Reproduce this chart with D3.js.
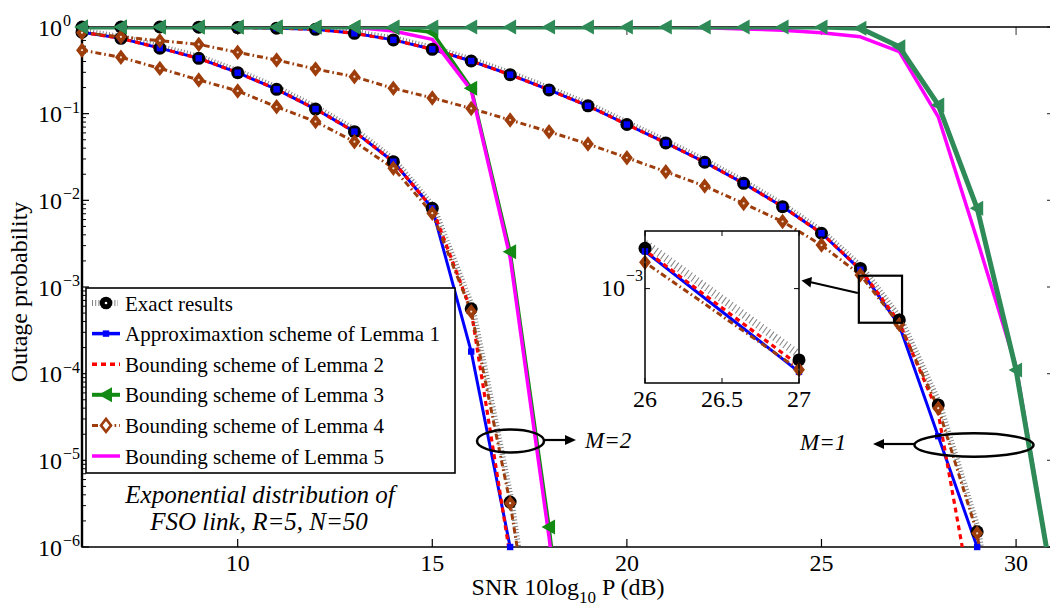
<!DOCTYPE html>
<html><head><meta charset="utf-8">
<script src="https://cdn.jsdelivr.net/npm/d3@7"></script>
<style>body{margin:0;background:#fff} svg{display:block} text{font-family:"Liberation Serif","Times New Roman",serif;fill:#000}</style>
</head><body><svg id="c" width="1050" height="606"></svg>
<script>
// ---------- data ----------
const snrM2 = [6,7,8,9,10,11,12,13,14,15,16,17,18,19];
const snrM1 = [6,7,8,9,10,11,12,13,14,15,16,17,18,19,20,21,22,23,24,25,26,27,28,29,30,31];

// M = 2
const exactM2  = [0.87,0.74,0.57,0.435,0.297,0.191,0.113,0.062,0.0279,0.0081,5.6e-4,3.3e-6,3e-9];
const lemma1M2 = [0.87,0.74,0.57,0.435,0.297,0.191,0.113,0.062,0.0279,0.0081,1.8e-4,1e-6];
const lemma2M2 = [0.87,0.74,0.57,0.435,0.297,0.191,0.113,0.062,0.0279,0.0081,5.3e-4,7.8e-7];
const lemma3M2 = [1,1,1,1,1,1,1,1,0.98,0.87,0.196,2.55e-3,1.7e-6,3e-10];
const lemma4M2 = [0.54,0.447,0.333,0.245,0.183,0.120,0.081,0.0475,0.0234,0.0071,5.2e-4,3.2e-6,5e-9];
const lemma5M2 = [1,1,1,1,1,1,1,0.99,0.90,0.72,0.187,2.2e-3,1.3e-6,3e-10];

// M = 1
const exactM1  = [1,1,1,0.995,0.985,0.97,0.94,0.845,0.71,0.553,0.405,0.282,0.188,0.123,0.075,0.046,0.0275,0.0157,8.45e-3,4.17e-3,1.64e-3,4.17e-4,4.36e-5,1.5e-6,1e-9];
const lemma1M1 = [1,1,1,0.995,0.985,0.97,0.94,0.845,0.71,0.553,0.405,0.282,0.188,0.123,0.075,0.046,0.0275,0.0157,8.45e-3,4.17e-3,1.58e-3,3.6e-4,1.9e-5,1e-6];
const lemma2M1 = [1,1,1,0.995,0.985,0.97,0.94,0.845,0.71,0.553,0.405,0.282,0.188,0.123,0.075,0.046,0.0275,0.0157,8.45e-3,4.17e-3,1.6e-3,3.9e-4,3.5e-5,1.1e-7];
const lemma3M1 = [1,1,1,1,1,1,1,1,1,1,1,1,1,1,1,1,1,1,1,1,0.966,0.59,0.126,8.1e-3,1.1e-4,2.6e-7];
const lemma4M1 = [0.86,0.77,0.695,0.63,0.51,0.416,0.327,0.267,0.196,0.152,0.115,0.0845,0.062,0.0447,0.031,0.0214,0.0146,9.2e-3,5.7e-3,3.05e-3,1.38e-3,3.7e-4,4e-5,1.44e-6,1e-9];
const lemma5M1 = [1,1,1,1,1,1,1,1,1,1,1,1,1,1,1,1,0.98,0.95,0.92,0.86,0.77,0.52,0.092,3.5e-3,1.2e-4,2.6e-7];

const legendLabels = ["Exact results","Approximaxtion scheme of Lemma 1","Bounding scheme of Lemma 2",
  "Bounding scheme of Lemma 3","Bounding scheme of Lemma 4","Bounding scheme of Lemma 5"];
const xTicks = [10,15,20,25,30];
const yTicks = [1e-6,1e-5,1e-4,1e-3,1e-2,1e-1,1];
const yTickSup = ["\u22126","\u22125","\u22124","\u22123","\u22122","\u22121","0"];
const insetXTicks = [26,26.5,27];
const insetYTicks = [1e-3];

// ---------- styles ----------
const C = {blue:"#0000ff", red:"#ff0000", green2:"#138a13", green1:"#2e8b57", brown:"#9e3d0c", mag:"#ff00ff", hatch:"#808080"};

const svg = d3.select("#c");
svg.append("rect").attr("width",1050).attr("height",606).attr("fill","#fff");

const x = d3.scaleLinear().domain([6,31]).range([82,1055]);
const y = d3.scaleLog().domain([1e-6,1]).range([547,27]);

const defs = svg.append("defs");
defs.append("clipPath").attr("id","clipMain").append("rect").attr("x",82).attr("y",27).attr("width",973).attr("height",520);

function pts(xs, vals){ return vals.map((v,i)=>[xs[i], v]); }

function drawMarker(g, type, cx, cy, color, legend){
  if(type==="circle"){
    g.append("circle").attr("cx",cx).attr("cy",cy).attr("r",6.5).attr("fill","#000");
  } else if(type==="square"){
    g.append("rect").attr("x",cx-3.2).attr("y",cy-3.2).attr("width",6.4).attr("height",6.4).attr("fill",color);
  } else if(type==="tri"){
    g.append("path").attr("d",`M${cx-7.5},${cy}L${cx+6},${cy-7.5}L${cx+6},${cy+7.5}Z`).attr("fill",color);
  } else if(type==="diamond"){
    g.append("path").attr("d",`M${cx},${cy-6.5}L${cx+5},${cy}L${cx},${cy+6.5}L${cx-5},${cy}Z`)
      .attr("fill",legend?"#fff":color).attr("stroke",color).attr("stroke-width",legend?2.6:1.5);
    if(!legend) g.append("circle").attr("cx",cx).attr("cy",cy).attr("r",1.1).attr("fill","#f4e0d0");
  }
}

function drawSeries(lineG, markG, xs_, ys_, data, st, xdom, ydom){
  const line = d3.line().x(d=>xs_(d[0])).y(d=>ys_(Math.max(d[1],1e-14)));
  if(st.hatch){
    lineG.append("path").attr("d",line(data)).attr("fill","none").attr("stroke",C.hatch)
      .attr("stroke-width",st.hw||5.5).attr("stroke-dasharray",st.hd||"1 2.2")
      .attr("transform",`translate(${st.ho||1.5},${-(st.ho||1.5)})`);
  } else {
    lineG.append("path").attr("d",line(data)).attr("fill","none").attr("stroke",st.color)
      .attr("stroke-width",st.width).attr("stroke-dasharray",st.dash||null)
      .attr("stroke-linejoin","round");
  }
  if(st.marker){
    data.forEach(d=>{
      if(d[0]>=xdom[0]-1e-9 && d[0]<=xdom[1]+1e-9 && d[1]>=ydom[0]*0.93 && d[1]<=ydom[1]*1.001){
        drawMarker(markG, st.marker, xs_(d[0]), ys_(d[1]), st.mcolor||st.color);
      }
    });
  }
}

// ---------- axes box & ticks ----------
const axG = svg.append("g");
yTicks.slice(0,-1).forEach(t=>{
  [2,3,4,5,6,7,8,9].forEach(k=>{
    const yy = y(t*k);
    axG.append("line").attr("x1",82).attr("x2",86).attr("y1",yy).attr("y2",yy).attr("stroke","#000").attr("stroke-width",1);
    axG.append("line").attr("x1",1055).attr("x2",1051).attr("y1",yy).attr("y2",yy).attr("stroke","#555").attr("stroke-width",1);
  });
});
yTicks.forEach((t,i)=>{
  const yy = y(t);
  axG.append("line").attr("x1",82).attr("x2",89).attr("y1",yy).attr("y2",yy).attr("stroke","#000").attr("stroke-width",1.2);
  axG.append("line").attr("x1",1055).attr("x2",1047).attr("y1",yy).attr("y2",yy).attr("stroke","#444").attr("stroke-width",1.2);
  axG.append("text").attr("x",62).attr("y",yy+8.5).attr("text-anchor","end").attr("font-size",24).text("10");
  axG.append("text").attr("x",63).attr("y",yy-1).attr("font-size",16).text(yTickSup[i]);
});
xTicks.forEach(t=>{
  const xx = x(t);
  axG.append("line").attr("x1",xx).attr("x2",xx).attr("y1",547).attr("y2",539).attr("stroke","#000").attr("stroke-width",1.2);
  axG.append("line").attr("x1",xx).attr("x2",xx).attr("y1",27).attr("y2",35).attr("stroke","#555").attr("stroke-width",1.2);
  axG.append("text").attr("x",xx).attr("y",571).attr("text-anchor","middle").attr("font-size",24).text(t);
});
axG.append("rect").attr("x",82).attr("y",27).attr("width",973).attr("height",520)
  .attr("fill","none").attr("stroke","#000").attr("stroke-width",1.5);
axG.append("line").attr("x1",82).attr("x2",82).attr("y1",27).attr("y2",547).attr("stroke","#000").attr("stroke-width",2.4);

// axis titles
const xl = svg.append("text").attr("x",568).attr("y",595).attr("text-anchor","middle").attr("font-size",24);
xl.append("tspan").text("SNR 10log");
xl.append("tspan").attr("dy",8).attr("font-size",17).text("10");
xl.append("tspan").attr("dy",-8).text(" P (dB)");
svg.append("text").attr("transform","translate(27,292) rotate(-90)").attr("text-anchor","middle").attr("font-size",24).text("Outage probability");

// ---------- series ----------
const lineG = svg.append("g").attr("clip-path","url(#clipMain)");
const XD=[6,31], YD=[1e-6,1];
const stExact = {hatch:true, marker:"circle"};
const stL1 = {color:C.blue, width:3, marker:"square"};
const stL2 = {color:C.red, width:3.2, dash:"5 4"};
const stL4 = {color:C.brown, width:3, dash:"6 3 1.6 3", marker:"diamond"};

function seriesLayer(xs, vals, st){
  const lg = lineG.append("g");
  const mg = svg.append("g");
  drawSeries(lg, mg, x, y, pts(xs, vals), st, XD, YD);
}
seriesLayer(snrM2, exactM2, stExact);
seriesLayer(snrM1, exactM1, stExact);
seriesLayer(snrM2, lemma1M2, stL1);
seriesLayer(snrM1, lemma1M1, stL1);
seriesLayer(snrM2, lemma2M2, stL2);
seriesLayer(snrM1, lemma2M1, stL2);
seriesLayer(snrM2, lemma4M2, stL4);
seriesLayer(snrM1, lemma4M1, stL4);
seriesLayer(snrM2, lemma3M2, {color:C.green2, width:3.5, marker:"tri"});
seriesLayer(snrM2, lemma5M2, {color:C.mag, width:3.5});
seriesLayer(snrM1, lemma5M1, {color:C.mag, width:3.5});
seriesLayer(snrM1, lemma3M1, {color:C.green1, width:5, marker:"tri"});

// ---------- annotations ----------
const an = svg.append("g");
an.append("ellipse").attr("cx",510.5).attr("cy",441).attr("rx",33.5).attr("ry",11.5).attr("fill","none").attr("stroke","#000").attr("stroke-width",2.5);
an.append("line").attr("x1",544).attr("y1",440).attr("x2",566).attr("y2",440).attr("stroke","#000").attr("stroke-width",2.2);
an.append("path").attr("d","M576,440L565,435L565,445Z").attr("fill","#000");
an.append("text").attr("x",585).attr("y",448).attr("font-size",23).attr("font-style","italic").text("M=2");

an.append("ellipse").attr("cx",974).attr("cy",445).attr("rx",59.5).attr("ry",11.7).attr("fill","none").attr("stroke","#000").attr("stroke-width",2.5);
an.append("line").attr("x1",914.5).attr("y1",444).attr("x2",883).attr("y2",444).attr("stroke","#000").attr("stroke-width",2.2);
an.append("path").attr("d","M873,444L884,439L884,449Z").attr("fill","#000");
an.append("text").attr("x",800).attr("y",450).attr("font-size",23).attr("font-style","italic").text("M=1");

an.append("text").attr("x",260).attr("y",503).attr("text-anchor","middle").attr("font-size",25).attr("font-style","italic").text("Exponential distribution of");
an.append("text").attr("x",259).attr("y",530).attr("text-anchor","middle").attr("font-size",25).attr("font-style","italic").text("FSO link, R=5, N=50");

// zoom box in main plot
const bx0 = x(25.96), bx1 = x(27.07), by0 = y(1.35e-3), by1 = y(3.87e-4);
an.append("rect").attr("x",bx0).attr("y",by0).attr("width",bx1-bx0).attr("height",by1-by0).attr("fill","none").attr("stroke","#000").attr("stroke-width",2.2);
an.append("line").attr("x1",bx0-1).attr("y1",293).attr("x2",811).attr("y2",282.3).attr("stroke","#000").attr("stroke-width",2.2);
an.append("path").attr("d","M801.5,280.5L812,277L810.5,287.5Z").attr("fill","#000");

// ---------- inset ----------
const ix = d3.scaleLinear().domain([26,27]).range([645,799]);
const iy = d3.scaleLog().domain([Math.pow(10,-3.503),Math.pow(10,-2.693)]).range([383,231]);
defs.append("clipPath").attr("id","clipInset").append("rect").attr("x",645).attr("y",231).attr("width",154).attr("height",152);
const ing = svg.append("g");
ing.append("rect").attr("x",645).attr("y",231).attr("width",154).attr("height",152).attr("fill","#fff");
const iLine = ing.append("g").attr("clip-path","url(#clipInset)");
const IXD=[26,27], IYD=[Math.pow(10,-3.503),Math.pow(10,-2.693)];
function insetLayer(xs, vals, st){
  const lg = iLine.append("g"); const mg = ing.append("g");
  drawSeries(lg, mg, ix, iy, pts(xs, vals), st, IXD, IYD);
}
insetLayer(snrM1, exactM1, {hatch:true, hw:8, ho:3, hd:"1 3.2", marker:"circle"});
insetLayer(snrM1, lemma1M1, stL1);
insetLayer(snrM1, lemma2M1, stL2);
insetLayer(snrM1, lemma4M1, stL4);
ing.append("rect").attr("x",645).attr("y",231).attr("width",154).attr("height",152).attr("fill","none").attr("stroke","#000").attr("stroke-width",1.5);
insetXTicks.forEach(t=>{
  const xx = ix(t);
  ing.append("line").attr("x1",xx).attr("x2",xx).attr("y1",383).attr("y2",378).attr("stroke","#000");
  ing.append("line").attr("x1",xx).attr("x2",xx).attr("y1",231).attr("y2",236).attr("stroke","#000");
  ing.append("text").attr("x",xx).attr("y",407).attr("text-anchor","middle").attr("font-size",24).text(t);
});
insetYTicks.forEach(t=>{
  const yy = iy(t);
  ing.append("line").attr("x1",645).attr("x2",650).attr("y1",yy).attr("y2",yy).attr("stroke","#000");
  ing.append("line").attr("x1",799).attr("x2",794).attr("y1",yy).attr("y2",yy).attr("stroke","#000");
  ing.append("text").attr("x",625).attr("y",yy+7).attr("text-anchor","end").attr("font-size",24).text("10");
  ing.append("text").attr("x",626).attr("y",yy-8).attr("font-size",16).text("\u22123");
});

// ---------- legend ----------
const lg = svg.append("g");
lg.append("rect").attr("x",86).attr("y",288).attr("width",369).attr("height",185).attr("fill","#fff").attr("stroke","#000").attr("stroke-width",1.6);
const legStyles = [
  {hatch:true, marker:"circle"},
  {color:C.blue, width:3.5, marker:"square"},
  {color:C.red, width:3.5, dash:"5 4"},
  {color:C.green2, width:4, marker:"tri"},
  {color:C.brown, width:3, dash:"6 3 1.6 3", marker:"diamond"},
  {color:C.mag, width:3.5}
];
legendLabels.forEach((lab,i)=>{
  const yy = 303 + i*30.6;
  const st = legStyles[i];
  if(st.hatch){
    lg.append("line").attr("x1",92).attr("x2",118).attr("y1",yy).attr("y2",yy).attr("stroke",C.hatch).attr("stroke-width",6).attr("stroke-dasharray","1 2.2");
    lg.append("circle").attr("cx",106).attr("cy",yy).attr("r",6.3).attr("fill","#000");
    lg.append("circle").attr("cx",106).attr("cy",yy).attr("r",1.3).attr("fill","#fff");
  } else {
    lg.append("line").attr("x1",92).attr("x2",120).attr("y1",yy).attr("y2",yy).attr("stroke",st.color).attr("stroke-width",st.width).attr("stroke-dasharray",st.dash||null);
    if(st.marker) drawMarker(lg, st.marker, 106, yy, st.color, true);
  }
  lg.append("text").attr("x",125).attr("y",yy+7.5).attr("font-size",21).text(lab);
});
</script></body></html>
